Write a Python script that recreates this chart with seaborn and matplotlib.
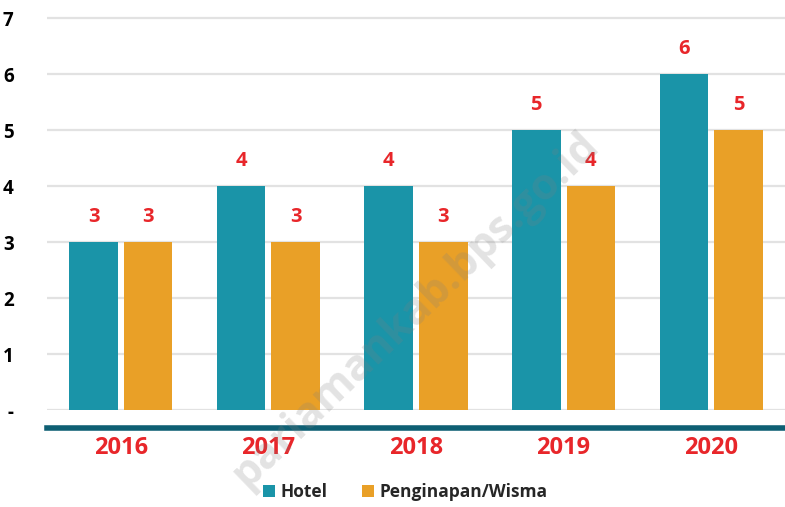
import pandas as pd
import matplotlib.pyplot as plt
import seaborn as sns

years = ["2016", "2017", "2018", "2019", "2020"]
hotel = [3, 4, 4, 5, 6]
penginapan = [3, 3, 3, 4, 5]
series_names = ["Hotel", "Penginapan/Wisma"]
y_ticks = [0, 1, 2, 3, 4, 5, 6, 7]
y_labels = ["-", "1", "2", "3", "4", "5", "6", "7"]

TEAL = "#1a94a8"
ORANGE = "#e9a027"
RED = "#e8262a"
FONT = ["Open Sans", "DejaVu Sans"]

df = pd.DataFrame({
    "tahun": years * 2,
    "jumlah": hotel + penginapan,
    "jenis": [series_names[0]] * len(years) + [series_names[1]] * len(years),
})

sns.set_theme(style="white")
plt.rcParams["font.family"] = FONT

fig = plt.figure(figsize=(7.85, 5.07), dpi=100)
ax = fig.add_axes([47 / 785, 97 / 507, 738 / 785, 408.8 / 507])

sns.barplot(data=df, x="tahun", y="jumlah", hue="jenis",
            palette=[TEAL, ORANGE], width=0.74, gap=0.11,
            saturation=1, linewidth=0, ax=ax, zorder=3)

# spine first: moving it resets the tick styling
for side in ["top", "right", "left"]:
    ax.spines[side].set_visible(False)
ax.spines["bottom"].set_position(("outward", 13))
ax.spines["bottom"].set_color("#0e5f73")
ax.spines["bottom"].set_linewidth(4)

ax.set_xlim(-0.5, 4.5)
ax.set_ylim(0, 7.3)
ax.set_yticks(y_ticks)
ax.set_yticklabels(y_labels, fontsize=13.5, fontweight="bold", color="black")
ax.set_xticks(range(len(years)))
ax.set_xticklabels(years, fontsize=17, fontweight="bold", color=RED)
ax.yaxis.grid(True, color="#e2e2e2", linewidth=1.6, zorder=0)
ax.tick_params(axis="y", length=0, pad=24)
ax.tick_params(axis="x", length=0, pad=6)
ax.set_xlabel("")
ax.set_ylabel("")

for cont in ax.containers:
    ax.bar_label(cont, padding=11, fontsize=14.5, fontweight="bold", color=RED)

ax.legend(loc="center", bbox_to_anchor=(0.485, -0.20), ncol=2, frameon=False,
          borderpad=0.2, handlelength=0.7, handleheight=0.7, handletextpad=0.3,
          columnspacing=2.0, prop={"weight": "bold", "size": 12.5})

fig.text(0.53, 0.39, "pariamankab.bps.go.id", rotation=44, fontsize=31,
         fontweight="bold", color="gray", alpha=0.22, ha="center", va="center",
         zorder=10)

fig.savefig("out.png", dpi=100)
